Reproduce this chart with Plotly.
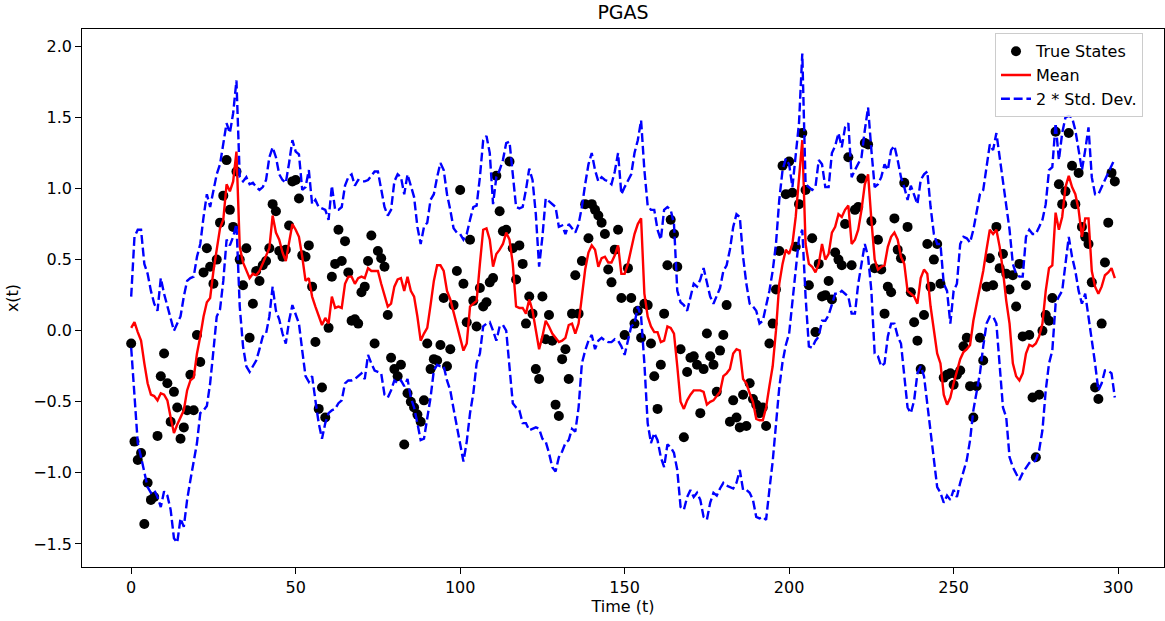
import plotly.graph_objects as go

# Time index
t = list(range(300))

# Simulated true state trajectory
true_states = [
    -0.09, -0.78, -0.91, -0.86, -1.36, -1.07, -1.19, -1.17, -0.74, -0.32,
    -0.16, -0.37, -0.64, -0.43, -0.54, -0.76, -0.68, -0.56, -0.31, -0.56,
    -0.03, -0.22, 0.41, 0.58, 0.45, 0.33, 0.50, 0.76, 0.95, 1.20,
    0.85, 0.73, 1.12, 0.50, 0.32, 0.58, -0.05, 0.19, 0.42, 0.35,
    0.46, 0.49, 0.58, 0.89, 0.84, 0.56, 0.52, 0.57, 0.74, 1.05,
    1.06, 0.93, 0.53, 0.52, 0.60, 0.31, -0.08, -0.55, -0.40, -0.61,
    0.02, 0.38, 0.47, 0.71, 0.49, 0.63, 0.41, 0.07, 0.08, 0.05,
    0.27, 0.31, 0.49, 0.67, -0.09, 0.56, 0.51, 0.45, 0.11, -0.19,
    -0.27, -0.32, -0.24, -0.80, -0.44, -0.50, -0.54, -0.59, -0.64, -0.49,
    -0.09, -0.27, -0.20, -0.21, -0.10, 0.23, -0.25, -0.13, 0.18, 0.42,
    0.99, 0.33, 0.06, 0.64, 0.21, 0.03, 0.30, 0.17, 0.20, 0.34,
    0.37, 1.09, 0.84, 0.70, 0.71, 1.19, 0.58, 0.36, 0.60, 0.47,
    0.05, 0.24, 0.12, -0.27, -0.34, 0.24, -0.06, 0.11, -0.07, -0.52,
    -0.60, -0.20, -0.13, -0.34, 0.12, 0.39, 0.12, 0.49, 0.89, 0.65,
    0.89, 0.85, 0.81, 0.76, 0.68, 0.43, 0.34, 0.57, 0.71, 0.23,
    -0.03, 0.44, 0.23, 0.05, 0.14, -0.05, 0.19, 0.18, -0.09, -0.32,
    -0.55, -0.24, 0.12, 0.46, 0.78, 0.68, 0.45, -0.13, -0.75, -0.29,
    -0.19, -0.18, -0.24, -0.58, -0.27, -0.02, -0.18, -0.24, -0.43, -0.14,
    -0.03, 0.18, -0.64, -0.49, -0.61, -0.68, -0.45, -0.67, -0.37, -0.48,
    -0.52, -0.58, -0.54, -0.67, -0.09, 0.05, 0.29, 0.56, 1.16, 0.96,
    1.19, 0.97, 0.59, 0.89, 1.39, 0.99, 0.32, 0.65, -0.01, 0.47,
    0.24, 0.25, 0.35, 0.22, 0.55, 0.50, 0.46, 0.75, 1.22, 0.46,
    0.85, 0.87, 1.07, 1.32, 1.31, 0.77, 0.44, 0.64, 0.43, 0.12,
    0.31, 0.27, 0.79, 0.57, 0.51, 1.04, 0.73, 0.27, 0.06, -0.07,
    -0.27, 0.11, 0.61, 0.31, 0.50, 0.61, 0.33, -0.33, -0.31, -0.30,
    -0.38, -0.31, -0.28, -0.11, -0.05, -0.39, -0.61, -0.39, -0.05, -0.21,
    0.31, 0.51, 0.32, 0.73, 0.44, 0.54, 0.40, 0.29, 0.39, 0.17,
    0.47, -0.04, 0.32, -0.03, -0.47, -0.89, -0.45, 0.00, 0.11, 0.07,
    0.23, 1.40, 1.03, 0.89, 0.98, 1.39, 1.16, 0.89, 1.11, 0.73,
    0.66, 0.61, 0.34, -0.40, -0.48, 0.05, 0.48, 0.76, 1.11, 1.05,
]

# Posterior mean from the particle sampler
posterior_mean = [
    0.02, 0.06, -0.01, -0.07, -0.23, -0.37, -0.45, -0.46, -0.49, -0.44,
    -0.45, -0.49, -0.61, -0.72, -0.66, -0.61, -0.56, -0.42, -0.35, -0.33,
    -0.16, -0.04, 0.10, 0.20, 0.23, 0.42, 0.58, 0.72, 0.78, 1.03,
    0.98, 1.05, 1.26, 0.59, 0.48, 0.43, 0.37, 0.40, 0.39, 0.42,
    0.47, 0.52, 0.58, 0.81, 0.69, 0.64, 0.55, 0.49, 0.61, 0.75,
    0.71, 0.66, 0.52, 0.35, 0.37, 0.24, 0.17, 0.10, 0.04, 0.09,
    0.05, 0.24, 0.16, 0.17, 0.16, 0.33, 0.38, 0.38, 0.33, 0.37,
    0.38, 0.37, 0.44, 0.42, 0.42, 0.42, 0.33, 0.25, 0.17, 0.19,
    0.31, 0.36, 0.37, 0.28, 0.38, 0.28, 0.24, 0.10, -0.07, -0.02,
    0.02, 0.18, 0.35, 0.46, 0.46, 0.42, 0.28, 0.22, 0.13, 0.05,
    -0.04, -0.14, -0.09, 0.17, 0.19, 0.21, 0.47, 0.71, 0.72, 0.64,
    0.45, 0.54, 0.57, 0.61, 0.69, 0.64, 0.47, 0.17, 0.16, 0.16,
    0.12, 0.22, 0.14, 0.00, -0.13, -0.04, 0.07, 0.03, -0.02, -0.05,
    -0.08, -0.07, -0.05, 0.04, 0.05, -0.02, 0.05, 0.24, 0.43, 0.55,
    0.60, 0.57, 0.45, 0.51, 0.52, 0.48, 0.48, 0.53, 0.60, 0.40,
    0.40, 0.47, 0.57, 0.68, 0.75, 0.79, 0.26, 0.10, 0.03, -0.01,
    -0.01, -0.08, -0.07, 0.03, 0.02, -0.02, -0.25, -0.50, -0.55, -0.49,
    -0.45, -0.42, -0.42, -0.42, -0.43, -0.52, -0.50, -0.49, -0.46, -0.43,
    -0.32, -0.30, -0.27, -0.16, -0.13, -0.14, -0.34, -0.37, -0.44, -0.50,
    -0.62, -0.63, -0.63, -0.54, -0.39, -0.25, 0.00, 0.33, 0.47, 0.57,
    0.54, 0.61, 0.80, 1.08, 1.34, 0.61, 0.47, 0.45, 0.41, 0.47,
    0.61, 0.50, 0.54, 0.69, 0.73, 0.82, 0.80, 0.85, 0.88, 0.61,
    0.64, 0.71, 0.85, 1.03, 1.10, 0.78, 0.50, 0.43, 0.45, 0.46,
    0.59, 0.66, 0.69, 0.64, 0.52, 0.47, 0.28, 0.26, 0.24, 0.19,
    0.37, 0.43, 0.40, 0.17, 0.00, -0.16, -0.23, -0.45, -0.52, -0.47,
    -0.37, -0.28, -0.20, -0.15, -0.13, -0.10, 0.07, 0.19, 0.31, 0.42,
    0.57, 0.71, 0.68, 0.71, 0.59, 0.42, 0.21, 0.05, -0.23, -0.32,
    -0.35, -0.30, -0.16, -0.10, -0.11, -0.09, -0.04, 0.05, 0.28, 0.44,
    0.46, 0.83, 0.71, 0.80, 1.01, 1.09, 1.01, 0.96, 0.85, 0.66,
    0.79, 0.79, 0.42, 0.31, 0.26, 0.31, 0.39, 0.41, 0.44, 0.37,
]

# Mean + 2 * standard deviation
upper_band = [
    0.24, 0.66, 0.71, 0.71, 0.47, 0.40, 0.28, 0.19, 0.14, 0.37,
    0.26, 0.17, 0.07, 0.00, 0.05, 0.10, 0.24, 0.35, 0.37, 0.38,
    0.52, 0.61, 0.80, 0.96, 0.87, 0.99, 1.10, 1.17, 1.31, 1.46,
    1.39, 1.53, 1.76, 1.08, 1.05, 1.08, 1.03, 1.04, 1.01, 0.99,
    1.01, 1.06, 1.22, 1.29, 1.22, 1.10, 1.06, 1.04, 1.18, 1.34,
    1.26, 1.24, 0.99, 1.01, 1.13, 0.89, 0.92, 0.87, 0.86, 0.85,
    0.78, 1.02, 0.85, 0.85, 0.87, 1.02, 1.08, 1.10, 1.02, 1.06,
    1.05, 1.05, 1.06, 1.09, 1.12, 1.12, 0.99, 0.87, 0.81, 0.85,
    1.05, 1.10, 1.08, 0.96, 1.10, 1.01, 0.94, 0.73, 0.61, 0.73,
    0.76, 0.92, 0.96, 1.08, 1.18, 1.13, 0.96, 0.85, 0.72, 0.69,
    0.68, 0.64, 0.68, 0.78, 0.87, 0.88, 1.08, 1.34, 1.37, 1.25,
    0.89, 1.08, 1.13, 1.20, 1.32, 1.33, 1.08, 0.87, 0.86, 0.87,
    0.99, 1.14, 1.06, 0.82, 0.45, 0.66, 0.93, 0.91, 0.89, 0.87,
    0.73, 0.74, 0.68, 0.75, 0.72, 0.69, 0.75, 0.87, 1.03, 1.17,
    1.25, 1.13, 1.05, 1.08, 1.06, 1.05, 1.03, 1.12, 1.25, 0.96,
    1.01, 1.06, 1.10, 1.25, 1.34, 1.48, 1.13, 0.88, 0.85, 0.85,
    0.71, 0.64, 0.85, 0.87, 0.85, 0.75, 0.28, 0.20, 0.18, 0.14,
    0.24, 0.33, 0.31, 0.36, 0.44, 0.33, 0.24, 0.19, 0.24, 0.30,
    0.42, 0.46, 0.57, 0.73, 0.82, 0.80, 0.52, 0.33, 0.19, 0.17,
    0.14, 0.05, 0.07, 0.17, 0.28, 0.42, 0.61, 0.92, 1.13, 1.21,
    1.17, 1.01, 1.22, 1.46, 1.95, 1.03, 1.01, 0.99, 1.01, 1.20,
    1.17, 1.01, 1.01, 1.25, 1.30, 1.39, 1.29, 1.43, 1.46, 1.08,
    1.13, 1.17, 1.22, 1.41, 1.57, 1.27, 1.01, 1.03, 1.08, 1.17,
    1.13, 1.27, 1.30, 1.20, 1.08, 1.01, 0.92, 1.02, 0.96, 0.89,
    1.06, 1.10, 1.12, 0.87, 0.68, 0.61, 0.61, 0.33, 0.28, 0.05,
    0.28, 0.33, 0.61, 0.66, 0.65, 0.62, 0.71, 0.84, 0.96, 0.99,
    1.15, 1.31, 1.27, 1.39, 1.22, 1.06, 0.89, 0.71, 0.47, 0.40,
    0.38, 0.38, 0.66, 0.71, 0.68, 0.68, 0.73, 0.78, 0.89, 1.13,
    1.15, 1.46, 1.20, 1.39, 1.50, 1.51, 1.50, 1.41, 1.27, 1.13,
    1.27, 1.43, 1.08, 0.96, 0.96, 1.01, 1.06, 1.10, 1.15, 1.21,
]

# Mean - 2 * standard deviation
lower_band = [
    -0.12, -0.46, -0.79, -0.89, -1.00, -1.10, -1.14, -1.12, -1.17, -1.24,
    -1.13, -1.16, -1.26, -1.46, -1.49, -1.32, -1.38, -1.19, -1.05, -0.93,
    -0.79, -0.58, -0.56, -0.53, -0.37, -0.14, 0.10, 0.15, 0.35, 0.64,
    0.60, 0.66, 0.75, 0.17, -0.11, -0.25, -0.29, -0.25, -0.21, -0.13,
    -0.04, -0.02, 0.10, 0.31, 0.14, 0.08, -0.02, -0.09, 0.07, 0.18,
    0.12, 0.05, -0.14, -0.32, -0.36, -0.32, -0.49, -0.65, -0.76, -0.65,
    -0.58, -0.56, -0.55, -0.51, -0.49, -0.37, -0.35, -0.35, -0.34, -0.32,
    -0.30, -0.34, -0.17, -0.23, -0.28, -0.29, -0.30, -0.45, -0.47, -0.42,
    -0.35, -0.37, -0.35, -0.39, -0.34, -0.47, -0.54, -0.65, -0.77, -0.76,
    -0.63, -0.47, -0.28, -0.24, -0.25, -0.25, -0.35, -0.42, -0.55, -0.68,
    -0.82, -0.92, -0.78, -0.58, -0.44, -0.23, -0.16, 0.03, 0.05, 0.06,
    0.00, -0.07, 0.03, 0.04, 0.00, -0.23, -0.51, -0.54, -0.56, -0.65,
    -0.65, -0.70, -0.69, -0.68, -0.69, -0.76, -0.78, -0.86, -0.96, -0.99,
    -0.89, -0.85, -0.79, -0.77, -0.69, -0.71, -0.54, -0.23, -0.14, -0.07,
    -0.03, -0.13, -0.07, -0.05, -0.07, -0.08, -0.08, -0.06, -0.07, -0.11,
    -0.17, -0.07, 0.03, 0.05, 0.17, 0.10, -0.23, -0.65, -0.79, -0.72,
    -0.77, -0.89, -0.96, -0.80, -0.82, -0.86, -0.98, -1.24, -1.26, -1.17,
    -1.12, -1.17, -1.14, -1.19, -1.31, -1.33, -1.21, -1.14, -1.16, -1.11,
    -1.07, -1.09, -1.10, -1.11, -1.07, -0.98, -1.12, -1.12, -1.14, -1.19,
    -1.31, -1.32, -1.31, -1.33, -1.12, -0.92, -0.66, -0.40, -0.22, -0.10,
    -0.02, 0.22, 0.45, 0.65, 0.71, 0.24, -0.11, -0.12, -0.07, -0.04,
    0.07, 0.07, 0.11, 0.19, 0.26, 0.26, 0.28, 0.26, 0.24, 0.12,
    0.12, 0.33, 0.47, 0.61, 0.52, 0.28, -0.16, -0.18, -0.25, -0.23,
    -0.04, 0.05, 0.05, -0.04, -0.09, -0.32, -0.54, -0.58, -0.49, -0.30,
    -0.25, -0.32, -0.51, -0.70, -0.89, -1.10, -1.14, -1.21, -1.16, -1.19,
    -1.12, -1.17, -1.07, -0.98, -0.91, -0.77, -0.56, -0.43, -0.30, -0.11,
    0.05, 0.10, 0.10, 0.05, -0.23, -0.54, -0.61, -0.89, -0.96, -1.00,
    -1.05, -1.00, -0.96, -0.93, -0.93, -0.91, -0.84, -0.70, -0.42, -0.23,
    -0.14, 0.19, 0.24, 0.28, 0.47, 0.66, 0.52, 0.42, 0.28, 0.19,
    0.26, 0.10, -0.04, -0.23, -0.42, -0.37, -0.28, -0.28, -0.30, -0.47,
]

x_ticks = [0, 50, 100, 150, 200, 250, 300]
y_ticks = [-1.5, -1.0, -0.5, 0.0, 0.5, 1.0, 1.5, 2.0]

# Axis limits with 5% padding around the data extent
x_pad = 0.05 * (t[-1] - t[0])
y_lo, y_hi = min(lower_band), max(upper_band)
y_pad = 0.05 * (y_hi - y_lo)

FONT = "DejaVu Sans"
LABEL_SIZE = 16
LINE_W = 2.4
dash_style = "8.9px,3.8px"

fig = go.Figure()

fig.add_trace(go.Scatter(
    x=t, y=true_states, mode="markers", name="True States",
    legendgroup="states",
    marker=dict(color="black", size=10, line=dict(width=0)),
))
fig.add_trace(go.Scatter(
    x=t, y=posterior_mean, mode="lines", name="Mean",
    legendgroup="mean",
    line=dict(color="#ff0000", width=LINE_W),
))
fig.add_trace(go.Scatter(
    x=t, y=upper_band, mode="lines", name="2 * Std. Dev.",
    legendgroup="band",
    line=dict(color="#0000ff", width=LINE_W, dash=dash_style),
))
fig.add_trace(go.Scatter(
    x=t, y=lower_band, mode="lines", name="2 * Std. Dev.",
    legendgroup="band", showlegend=False,
    line=dict(color="#0000ff", width=LINE_W, dash=dash_style),
))

axis_common = dict(
    showgrid=False, zeroline=False,
    showline=True, linecolor="black", linewidth=1.3, mirror=True,
    ticks="outside", ticklen=5.6, tickwidth=1.3, tickcolor="black",
    tickfont=dict(family=FONT, size=LABEL_SIZE, color="black"),
)

fig.update_layout(
    width=1165, height=621,
    margin=dict(l=82, r=1, t=29, b=54),
    paper_bgcolor="white", plot_bgcolor="white",
    font=dict(family=FONT, size=LABEL_SIZE, color="black"),
    title=dict(
        text="PGAS", x=0.5, xref="paper", xanchor="center",
        y=1 - 12 / 621, yref="container", yanchor="middle",
        font=dict(family=FONT, size=19, color="black"),
    ),
    xaxis=dict(
        range=[t[0] - x_pad, t[-1] + x_pad],
        tickvals=x_ticks,
        title=dict(text="Time (t)", font=dict(family=FONT, size=LABEL_SIZE), standoff=4),
        **axis_common,
    ),
    yaxis=dict(
        range=[y_lo - y_pad, y_hi + y_pad],
        tickvals=y_ticks, tickformat=".1f",
        title=dict(text="x(t)", font=dict(family=FONT, size=LABEL_SIZE), standoff=10),
        **axis_common,
    ),
    legend=dict(
        x=0.9806, y=0.992, xanchor="right", yanchor="top",
        bgcolor="rgba(255,255,255,0.8)", bordercolor="#cccccc", borderwidth=1,
        font=dict(family=FONT, size=LABEL_SIZE, color="black"),
        traceorder="normal", tracegroupgap=0,
    ),
    showlegend=True,
)

fig.write_html("out.html")
